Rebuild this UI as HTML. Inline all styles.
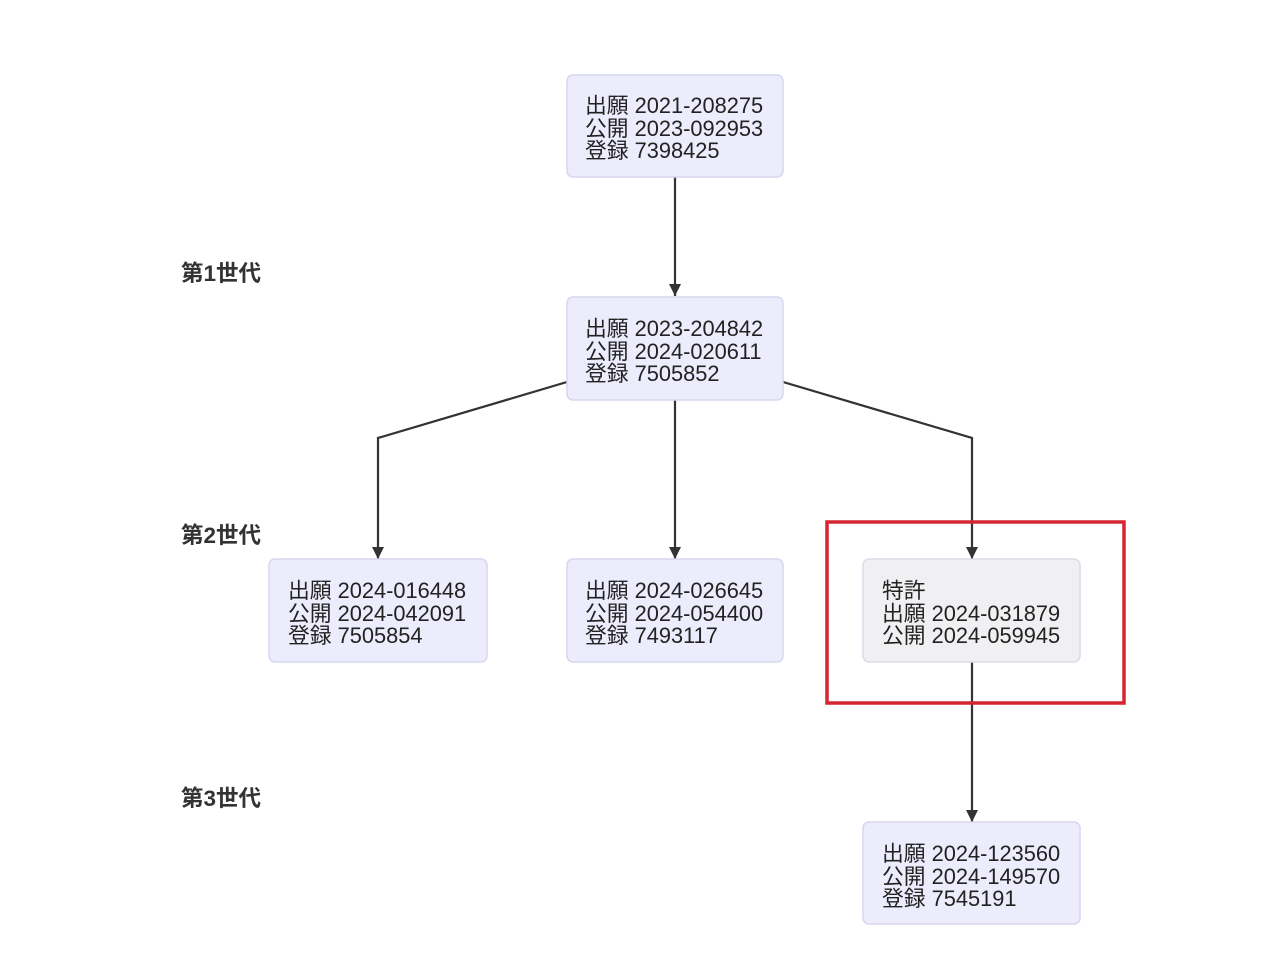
<!DOCTYPE html>
<html>
<head>
<meta charset="utf-8">
<style>
  html,body{margin:0;padding:0;background:#ffffff;}
  body{width:1280px;height:960px;overflow:hidden;}
  svg{display:block;}
  .t{font-family:"Liberation Sans","Noto Sans CJK JP",sans-serif;font-size:21.8px;fill:#222;}
  .lbl{font-family:"Liberation Sans","Noto Sans CJK JP",sans-serif;font-size:22.5px;font-weight:bold;fill:#333;}
</style>
</head>
<body>
<svg width="1280" height="960" viewBox="0 0 1280 960" xmlns="http://www.w3.org/2000/svg">
  <defs>
    <marker id="ah" viewBox="0 0 12 12" refX="12" refY="6" markerWidth="12" markerHeight="12" markerUnits="userSpaceOnUse" orient="auto">
      <path d="M0,0 L12,6 L0,12 z" fill="#333"/>
    </marker>
  </defs>

  <!-- connectors -->
  <g stroke="#333" stroke-width="2.2" fill="none">
    <path d="M675,177 L675,296" marker-end="url(#ah)"/>
    <path d="M567,382 L378,438 L378,559" marker-end="url(#ah)"/>
    <path d="M675,400 L675,559" marker-end="url(#ah)"/>
    <path d="M783,382 L972,438 L972,559" marker-end="url(#ah)"/>
    <path d="M972,662 L972,822" marker-end="url(#ah)"/>
  </g>

  <!-- nodes -->
  <g stroke="#d6d6ee" stroke-width="1.5">
    <rect x="567" y="75" width="216" height="102" rx="6" fill="#ececfc"/>
    <rect x="567" y="297" width="216" height="103" rx="6" fill="#ececfc"/>
    <rect x="269" y="559" width="218" height="103" rx="6" fill="#ececfc"/>
    <rect x="567" y="559" width="216" height="103" rx="6" fill="#ececfc"/>
    <rect x="863" y="559" width="217" height="103" rx="6" fill="#f0f0f3" stroke="#dcdce8"/>
    <rect x="863" y="822" width="217" height="102" rx="6" fill="#ececfc"/>
  </g>

  <!-- red highlight -->
  <rect x="827" y="522" width="297" height="181" fill="none" stroke="#d42630" stroke-width="3.5"/>

  <!-- node text -->
  <g class="t">
    <text x="585" y="113">出願 2021-208275</text>
    <text x="585" y="136">公開 2023-092953</text>
    <text x="585" y="158">登録 7398425</text>

    <text x="585" y="336">出願 2023-204842</text>
    <text x="585" y="359">公開 2024-020611</text>
    <text x="585" y="381">登録 7505852</text>

    <text x="288" y="598">出願 2024-016448</text>
    <text x="288" y="621">公開 2024-042091</text>
    <text x="288" y="643">登録 7505854</text>

    <text x="585" y="598">出願 2024-026645</text>
    <text x="585" y="621">公開 2024-054400</text>
    <text x="585" y="643">登録 7493117</text>

    <text x="882" y="598">特許</text>
    <text x="882" y="621">出願 2024-031879</text>
    <text x="882" y="643">公開 2024-059945</text>

    <text x="882" y="861">出願 2024-123560</text>
    <text x="882" y="884">公開 2024-149570</text>
    <text x="882" y="906">登録 7545191</text>
  </g>

  <!-- generation labels -->
  <text class="lbl" x="181" y="281">第1世代</text>
  <text class="lbl" x="181" y="543">第2世代</text>
  <text class="lbl" x="181" y="806">第3世代</text>
</svg>
</body>
</html>
